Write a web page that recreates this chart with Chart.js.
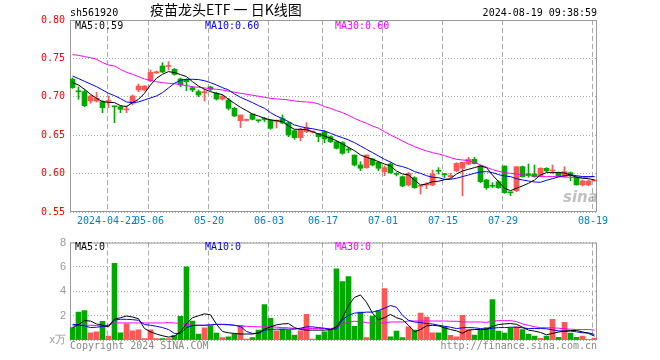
<!DOCTYPE html>
<html>
<head>
<meta charset="utf-8">
<script src="https://cdn.jsdelivr.net/npm/chart.js@4.4.1/dist/chart.umd.min.js"></script>
<style>
  body { margin: 0; background: #fff; }
  #wrap { position: relative; width: 660px; height: 360px; overflow: hidden; font-family: "DejaVu Sans Mono", monospace; font-size: 10px; }
  canvas { position: absolute; left: 0; }
  .t { position: absolute; white-space: nowrap; line-height: 10px; }
</style>
</head>
<body>
<div id="wrap">
  <canvas id="price" width="660" height="232" style="top:0"></canvas>
  <canvas id="vol" width="660" height="128" style="top:232px"></canvas>
  <div class="t" style="left:70px;top:8px">sh561920</div>
  <div class="t" style="left:150px;top:2px;font:14px 'Noto Sans CJK SC';line-height:14px">疫苗龙头ETF&nbsp;一&nbsp;日K线图</div>
  <div class="t" style="right:63px;top:8px">2024-08-19 09:38:59</div>
  <div class="t" style="left:75px;top:21px">MA5:0.59</div>
  <div class="t" style="left:205px;top:21px;color:#00f">MA10:0.60</div>
  <div class="t" style="left:335px;top:21px;color:#f0f">MA30:0.60</div>
  <div class="t" style="left:75px;top:242px">MA5:0</div>
  <div class="t" style="left:205px;top:242px;color:#00f">MA10:0</div>
  <div class="t" style="left:335px;top:242px;color:#f0f">MA30:0</div>
  <div class="t" style="left:70px;top:341px;color:#888">Copyright 2024 SINA.COM</div>
  <div class="t" style="right:63px;top:341px;color:#888">http://finance.sina.com.cn</div>
  <div class="t" style="left:563px;top:190px;font:italic bold 15px 'DejaVu Sans';line-height:15px;color:rgba(130,130,130,0.5)">sina</div>
</div>
<script>
const dates = [
  "04-12","04-15","04-16","04-17","04-18","04-19","04-22","04-23","04-24","04-25","04-26","04-29","04-30",
  "05-06","05-07","05-08","05-09","05-10","05-13","05-14","05-15","05-16","05-17","05-20","05-21","05-22","05-23","05-24","05-27","05-28","05-29","05-30","05-31",
  "06-03","06-04","06-05","06-06","06-07","06-11","06-12","06-13","06-14","06-17","06-18","06-19","06-20","06-21","06-24","06-25","06-26","06-27","06-28",
  "07-01","07-02","07-03","07-04","07-05","07-08","07-09","07-10","07-11","07-12","07-15","07-16","07-17","07-18","07-19","07-22","07-23","07-24","07-25","07-26","07-29","07-30","07-31",
  "08-01","08-02","08-05","08-06","08-07","08-08","08-09","08-12","08-13","08-14","08-15","08-16","08-19"
]
const tickDates = ["04-22","05-06","05-20","06-03","06-17","07-01","07-15","07-29","08-19"]
const tickLabels = ["2024-04-22","05-06","05-20","06-03","06-17","07-01","07-15","07-29","08-19"]
const priceTicks = [0.55, 0.60, 0.65, 0.70, 0.75, 0.80]
const volTicks = [0, 2, 4, 6, 8]
const volTickLabels = ["x万", "2", "4", "6", "8"]

const opens = [
  .723,.707,.7067,.6945,.6945,.6937,.694,.6875,.6871,.683,
  .6915,.7089,.7089,.7206,.731,.7401,.7395,.7358,.7232,.7228,
  .7119,.7067,.705,.7128,.7045,.697,.6958,.685,.6689,.6692,
  .6776,.6692,.671,.6698,.6677,.6715,.6663,.6559,.6468,.6546,
  .654,.6524,.6546,.648,.6415,.6403,.631,.6242,.6112,.6077,
  .619,.6147,.6025,.6125,.5995,.596,.5852,.5947,.5835,.585,
  .5852,.6034,.599,.596,.6034,.6069,.6125,.6186,.6099,.5917,
  .5839,.5895,.6099,.5755,.5778,.609,.599,.5995,.5973,.6069,
  .6034,.6012,.596,.6012,.5955,.5852,.5852,.5905
]
const highs = [
  .7245,.713,.7089,.7023,.706,.695,.701,.6878,.6884,.6884,
  .7023,.7167,.7145,.7349,.7335,.7444,.7457,.737,.7245,.7232,
  .7132,.7089,.7098,.7137,.7058,.7023,.698,.6863,.6763,.6713,
  .6776,.6698,.6733,.6707,.6698,.6763,.6676,.6568,.659,.6663,
  .6555,.6524,.6559,.6489,.6424,.6416,.6342,.6242,.6155,.6242,
  .6199,.6155,.6099,.6142,.6012,.5969,.6016,.596,.5842,.5882,
  .6047,.6077,.6003,.6003,.6142,.6147,.6212,.6212,.6112,.5926,
  .5882,.5908,.6099,.5757,.609,.6099,.6125,.6112,.6077,.6077,
  .6112,.6021,.609,.6021,.5965,.5917,.5917,.5915
]
const lows = [
  .711,.6967,.687,.6915,.6932,.6793,.6858,.6663,.6793,.6793,
  .6893,.7067,.7076,.7197,.7305,.7314,.7349,.728,.7132,.708,
  .7067,.7002,.6945,.708,.6958,.6958,.6828,.6741,.6598,.6685,
  .6698,.6668,.6677,.6577,.6594,.665,.648,.6446,.6428,.6533,
  .6529,.6415,.6403,.6403,.632,.6251,.6273,.6099,.6038,.6069,
  .6099,.6038,.5973,.6003,.5969,.583,.5839,.5808,.5734,.5804,
  .5843,.5995,.5947,.5947,.6025,.5713,.6116,.6125,.5882,.5795,
  .5817,.5808,.5743,.5713,.5765,.5952,.5952,.5952,.596,.6025,
  .6003,.596,.5952,.5908,.5852,.5839,.5843,.59
]
const closes = [
  .712,.7065,.6884,.701,.698,.6858,.695,.687,.6837,.684,
  .701,.714,.714,.7319,.7325,.7323,.7405,.7293,.7154,.7197,
  .7089,.7023,.7067,.7097,.6971,.701,.685,.675,.6763,.670,
  .6707,.6688,.6705,.659,.6695,.6659,.6503,.6468,.6576,.6598,
  .6546,.648,.6451,.6415,.6329,.6264,.6306,.6112,.6069,.6242,
  .6112,.6069,.6077,.6012,.599,.5839,.6003,.5817,.5839,.5861,
  .5995,.603,.5985,.5975,.6133,.6147,.6186,.6129,.5895,.5817,
  .5835,.5817,.5752,.575,.609,.596,.5985,.596,.6069,.6034,
  .604,.5973,.6025,.5973,.5852,.5904,.5904,.591
]
const ma5 = [
  .7184,.7154,.7098,.7033,.698,.6937,.6928,.6924,.6885,.6872,
  .6924,.6967,.7046,.7154,.7241,.7293,.7328,.7315,.7289,.7263,
  .7197,.7141,.7098,.7067,.7046,.7028,.6967,.6915,.6863,.682,
  .6776,.675,.672,.6698,.669,.6677,.662,.6577,.6577,.6572,
  .6546,.6516,.649,.646,.6429,.6386,.6342,.6299,.6243,.6212,
  .6186,.6156,.6125,.6099,.6034,.5995,.5982,.5917,.5852,.5865,
  .5895,.59,.5921,.5934,.5995,.6034,.6056,.6078,.6099,.6078,
  .5982,.5895,.5809,.5778,.5809,.5839,.5874,.5917,.5982,.6013,
  .6013,.6013,.6008,.5982,.5952,.5939,.5934,.5917
]
const ma10 = [
  .7271,.7237,.7202,.7167,.7132,.7089,.7046,.7015,.6976,.6933,
  .6924,.6933,.6959,.6985,.7011,.7054,.7115,.7176,.7215,.7228,
  .7228,.7224,.721,.7184,.7154,.7119,.7089,.7037,.6993,.6959,
  .6924,.6885,.685,.6794,.675,.6716,.6677,.6633,.6612,.6594,
  .6585,.6568,.6555,.6525,.6494,.6468,.6438,.6403,.636,.6316,
  .6273,.623,.6186,.6151,.6108,.6091,.6065,.6026,.6004,.5973,
  .5952,.5947,.5926,.5926,.5939,.5961,.5982,.6004,.6021,.6026,
  .6013,.5987,.5969,.5961,.5934,.5917,.5904,.5891,.5887,.5913,
  .5934,.5956,.5973,.5982,.5973,.5961,.5961,.5961
]
const ma30 = [
  .7549,.754,.7523,.751,.7488,.7445,.7414,.7401,.7358,.7319,
  .7293,.7263,.7232,.7215,.7197,.7184,.7176,.7171,.7158,.7145,
  .7132,.7124,.7115,.7106,.7098,.7089,.7072,.7059,.7046,.7033,
  .702,.7007,.6993,.698,.6972,.6967,.6959,.6946,.6937,.6933,
  .6928,.6907,.6872,.685,.682,.6794,.6759,.672,.6685,.6655,
  .662,.659,.6546,.6503,.6464,.6425,.6386,.6351,.6321,.6295,
  .6273,.6256,.6234,.6208,.6186,.6178,.6169,.6147,.6112,.6082,
  .6052,.603,.6013,.6004,.5995,.5982,.5974,.5969,.5961,.5961,
  .5961,.5961,.5956,.5952,.5952,.5952,.5956,.5961
]
const volumes = [
  1.03,2.29,2.42,0.59,0.67,1.54,0.32,6.3,0.59,1.32,
  0.75,0.83,0.11,0.83,0.11,0.11,0.11,0.38,1.94,6.0,
  1.56,0.48,1.0,1.16,0.57,0.19,0.27,0.49,1.21,0.08,
  0.19,0.81,2.91,1.78,0.75,0.89,0.81,0.40,0.75,2.10,
  0.08,0.40,0.67,0.81,5.85,4.80,5.20,1.13,2.29,0.19,
  1.97,2.42,4.23,0.27,0.73,0.19,1.08,0.81,2.21,1.89,
  0.59,0.59,1.08,0.38,0.27,2.02,0.86,0.40,0.81,1.02,
  3.31,0.73,0.57,1.00,1.08,0.86,0.49,0.32,0.13,0.32,
  1.70,0.22,1.45,0.57,0.22,0.32,0.05,0.16
]
const volMa5 = [
  1.0,1.27,1.59,1.56,1.32,1.21,1.08,1.72,1.83,1.97,
  1.89,1.75,0.94,0.67,0.49,0.35,0.24,0.32,0.67,1.35,
  1.83,1.99,2.15,2.07,1.29,0.70,0.59,0.54,0.49,0.49,
  0.49,0.59,0.89,1.08,1.24,1.32,1.35,1.02,0.86,0.81,
  0.81,0.81,0.81,0.86,1.08,1.83,2.83,3.50,3.70,3.10,
  2.21,1.67,1.83,2.10,1.83,1.67,1.21,0.67,0.86,1.16,
  1.21,1.16,1.0,0.86,0.75,0.56,0.81,0.86,0.86,0.89,
  1.11,1.27,1.32,1.35,1.29,1.05,0.81,0.73,0.62,0.43,
  0.54,0.65,0.73,0.78,0.78,0.67,0.54,0.32
]
const volMa10 = [
  1.29,1.24,1.16,1.02,1.05,1.11,1.19,1.64,1.70,1.70,
  1.67,1.62,1.27,1.21,1.13,1.02,0.86,0.54,0.54,1.02,
  1.19,1.21,1.21,1.24,1.29,1.29,1.27,1.21,1.10,0.70,
  0.54,0.54,0.81,0.86,0.89,0.89,0.89,0.89,0.97,1.08,
  1.08,1.02,0.97,0.86,0.92,1.67,2.02,2.21,2.24,2.29,
  2.29,2.42,2.61,2.83,2.69,2.02,1.62,1.48,1.43,1.35,
  1.32,1.21,1.13,1.05,0.94,1.0,1.02,1.0,0.94,0.89,
  0.97,1.02,1.02,1.05,1.05,1.0,0.94,0.94,0.94,0.92,
  0.84,0.75,0.73,0.73,0.67,0.59,0.59,0.46
]
const volMa30 = [
  1.16,1.21,1.21,1.21,1.19,1.13,1.24,1.40,1.40,1.40,
  1.40,1.40,1.40,1.40,1.40,1.40,1.43,1.40,1.35,1.27,
  1.21,1.21,1.21,1.24,1.27,1.27,1.24,1.21,1.16,1.13,
  1.10,1.08,1.08,1.08,1.05,1.02,1.0,0.94,0.94,0.94,
  0.94,0.94,0.94,0.94,1.0,1.29,1.48,1.54,1.51,1.43,
  1.35,1.38,1.40,1.48,1.48,1.48,1.56,1.56,1.56,1.56,
  1.56,1.56,1.56,1.54,1.54,1.48,1.48,1.48,1.48,1.45,
  1.54,1.59,1.59,1.59,1.51,1.32,1.21,1.08,1.02,1.0,
  1.0,0.97,0.92,0.89,0.86,0.86,0.86,0.81
]

const RED = "#ff5656"
const GREEN = "#00a800"
const MONO = { family: "DejaVu Sans Mono", size: 10 }

const upDown = closes.map((c, i) => (c >= opens[i] ? RED : GREEN))
const tickIdx = tickDates.map((d) => dates.indexOf(d))
const pts = (arr) => arr.map((v, i) => ({ x: i, y: v }))

// caja gris alrededor del área del gráfico
const boxPlugin = {
  id: "box",
  beforeDatasetsDraw(chart) {
    const { ctx, chartArea: a } = chart
    ctx.save()
    ctx.strokeStyle = "#9a9a9a"
    ctx.lineWidth = 1
    ctx.strokeRect(a.left + 0.5, a.top + 0.5, a.right - a.left - 1, a.bottom - a.top - 1)
    ctx.restore()
  },
}

const xAxis = (showLabels) => ({
  type: "linear",
  min: -0.4167,
  max: 87.417,
  offset: false,
  afterBuildTicks: (s) => {
    s.ticks = tickIdx.map((i) => ({ value: i - 0.25 }))
  },
  afterFit: (s) => {
    s.height = 20
  },
  ticks: {
    display: showLabels,
    autoSkip: false,
    maxRotation: 0,
    padding: 3,
    color: "#0080d0",
    font: MONO,
    callback: (v, k) => tickLabels[k],
  },
  grid: { color: "#aaa", drawTicks: false, offset: false },
  border: { display: false, dash: [5, 3] },
})

const maLine = (arr, color) => ({
  type: "line",
  data: pts(arr),
  borderColor: color,
  borderWidth: 1,
  pointRadius: 0,
  tension: 0,
  order: 0,
})

const common = {
  responsive: false,
  animation: false,
  events: [],
  plugins: { legend: { display: false }, tooltip: { enabled: false } },
}

new Chart(document.getElementById("price"), {
  type: "bar",
  data: {
    datasets: [
      maLine(ma5, "#000"),
      maLine(ma10, "#00f"),
      maLine(ma30, "#f0f"),
      {
        data: dates.map((d, i) => ({ x: i, y: [lows[i], highs[i]] })),
        backgroundColor: upDown,
        barThickness: 1,
        grouped: false,
        order: 2,
      },
      {
        data: dates.map((d, i) => ({ x: i, y: [opens[i], closes[i]] })),
        backgroundColor: upDown,
        barThickness: 5,
        minBarLength: 1,
        grouped: false,
        order: 1,
      },
    ],
  },
  options: {
    ...common,
    layout: { padding: { left: 0, right: 63, top: 20, bottom: 0 } },
    scales: {
      x: xAxis(true),
      y: {
        min: 0.55,
        max: 0.8,
        beginAtZero: false,
        afterBuildTicks: (s) => {
          s.ticks = priceTicks.map((v) => ({ value: v }))
        },
        afterFit: (s) => {
          s.width = 70
        },
        ticks: { color: "#f00", padding: 5, font: MONO, callback: (v) => v.toFixed(2) },
        grid: { color: "#aaa", drawTicks: false },
        border: { display: false, dash: [1, 2] },
      },
    },
  },
  plugins: [boxPlugin],
})

new Chart(document.getElementById("vol"), {
  type: "bar",
  data: {
    datasets: [
      maLine(volMa5, "#000"),
      maLine(volMa10, "#00f"),
      maLine(volMa30, "#f0f"),
      {
        data: volumes.map((v, i) => ({ x: i, y: v })),
        backgroundColor: upDown,
        barThickness: 5,
        grouped: false,
        order: 1,
      },
    ],
  },
  options: {
    ...common,
    layout: { padding: { left: 0, right: 63, top: 9, bottom: 0 } },
    scales: {
      x: xAxis(false),
      y: {
        min: 0,
        max: 8,
        afterBuildTicks: (s) => {
          s.ticks = volTicks.map((v) => ({ value: v }))
        },
        afterFit: (s) => {
          s.width = 70
        },
        ticks: {
          color: "#999",
          padding: 4,
          font: { family: "Liberation Sans", size: 11 },
          callback: (v, k) => volTickLabels[k],
        },
        grid: { color: "#aaa", drawTicks: false },
        border: { display: false, dash: [1, 2] },
      },
    },
  },
  plugins: [boxPlugin],
})
</script>
</body>
</html>
